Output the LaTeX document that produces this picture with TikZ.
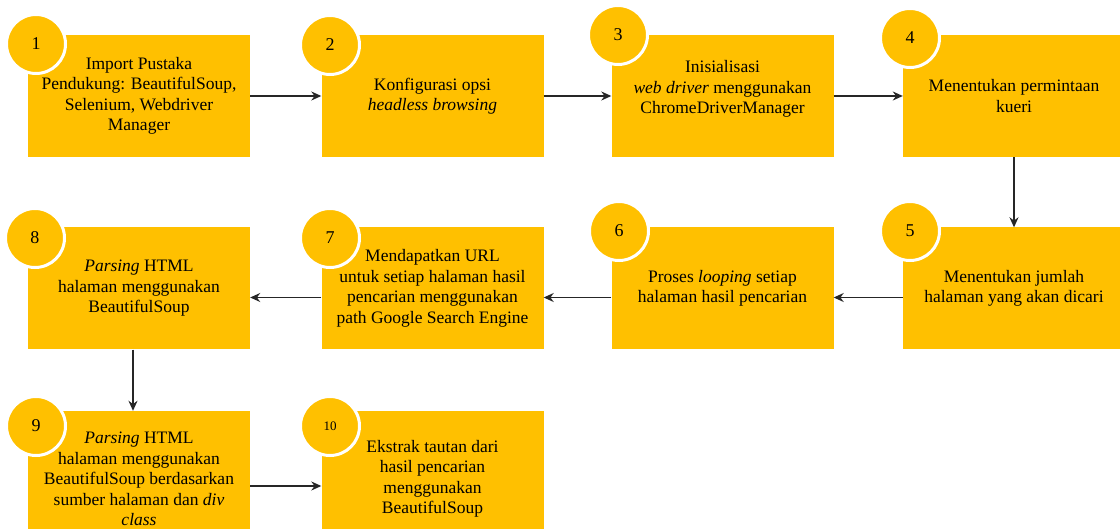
\documentclass[tikz,border=0pt]{standalone}
\usepackage{fontspec}
\setmainfont{Liberation Serif}
\usetikzlibrary{arrows.meta}
\definecolor{stepgold}{HTML}{FFC000}
\definecolor{flowgray}{HTML}{262626}

\tikzset{
  stepbox/.style={fill=stepgold, minimum width=222pt, minimum height=122pt,
    align=center, inner sep=0pt, font=\fontsize{17.5}{20.5}\selectfont},
  numdot/.style={circle, fill=stepgold, draw=white, line width=3pt,
    minimum size=59pt, inner sep=0pt, font=\fontsize{18}{20}\selectfont},
  flow/.style={->, line width=1.4pt, draw=flowgray},
}

\begin{document}
\begin{tikzpicture}[x=1pt, y=-1pt, >={Stealth[length=10pt,width=9pt]}]
  \clip (0,0) rectangle (1120,529);
  \fill[white] (0,0) rectangle (1120,529);

  % row 1
  \node[stepbox] (b1) at (139,96) {Import Pustaka\\ Pendukung: BeautifulSoup,\\ Selenium, Webdriver\\ Manager};
  \node[stepbox] (b2) at (432.5,96) {Konfigurasi opsi\\ \textit{headless browsing}};
  \node[stepbox] (b3) at (722.5,96) {Inisialisasi\\ \textit{web driver} menggunakan\\ ChromeDriverManager\\[-3pt]\mbox{}};
  \node[stepbox] (b4) at (1014,96) {Menentukan permintaan\\ kueri};

  % row 2
  \node[stepbox] (b5) at (1014,288.5) {Menentukan jumlah\\ halaman yang akan dicari};
  \node[stepbox] (b6) at (722.5,288.5) {Proses \textit{looping} setiap\\ halaman hasil pencarian};
  \node[stepbox] (b7) at (432.5,288.5) {Mendapatkan URL\\ untuk setiap halaman hasil\\ pencarian menggunakan\\ path Google Search Engine};
  \node[stepbox] (b8) at (139,288.5) {\textit{Parsing} HTML\\ halaman menggunakan\\ BeautifulSoup};

  % row 3
  \node[stepbox, minimum height=136pt] (b9) at (139,479) {\textit{Parsing} HTML\\ halaman menggunakan\\ BeautifulSoup berdasarkan\\ sumber halaman dan \textit{div}\\ \textit{class}};
  \node[stepbox, minimum height=136pt] (b10) at (432.5,479) {Ekstrak tautan dari\\ hasil pencarian\\ menggunakan\\ BeautifulSoup};

  % number badges
  \node[numdot] (c1) at (36,44) {1};
  \node[numdot] (c2) at (330,45) {2};
  \node[numdot] (c3) at (618,35) {3};
  \node[numdot] (c4) at (910,38) {4};
  \node[numdot] (c5) at (910,231) {5};
  \node[numdot] (c6) at (619,231) {6};
  \node[numdot] (c7) at (330,238) {7};
  \node[numdot] (c8) at (35,238) {8};
  \node[numdot] (c9) at (36,426) {9};
  \node[numdot, font=\fontsize{13}{15}\selectfont] (c10) at (330,426) {10};

  % connectors
  \draw[flow] (b1.east) -- (b2.west);
  \draw[flow] (b2.east) -- (b3.west);
  \draw[flow] (b3.east) -- (b4.west);
  \draw[flow] (b4.south) -- (b5.north);
  \draw[flow] ([yshift=-9pt]b5.west) -- ([yshift=-9pt]b6.east);
  \draw[flow] ([yshift=-9pt]b6.west) -- ([yshift=-9pt]b7.east);
  \draw[flow] ([yshift=-9pt]b7.west) -- ([yshift=-9pt]b8.east);
  \draw[flow] ([xshift=-6pt]b8.south) -- ([xshift=-6pt]b9.north);
  \draw[flow] ([yshift=-7pt]b9.east) -- ([yshift=-7pt]b10.west);
\end{tikzpicture}
\end{document}
